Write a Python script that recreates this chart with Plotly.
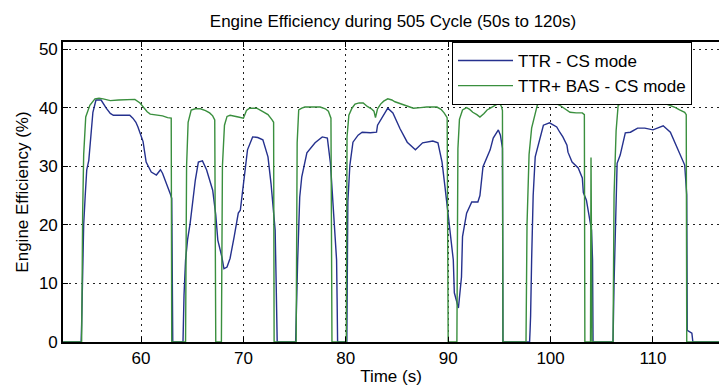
import plotly.graph_objects as go

# Engine efficiency traces, 505 cycle window
ttr_time = [52.4, 54.15, 54.2, 54.3, 54.4, 54.55, 54.7, 54.9, 55.1, 55.3, 55.6, 56.1, 56.6, 57.0, 57.3,
            58.2, 58.9, 59.2, 59.5, 59.7, 60.0, 60.2, 60.5, 60.8, 61.0, 61.5, 61.75, 61.9, 62.1, 62.4,
            62.6, 62.9, 63.0, 63.1, 64.1, 64.2, 64.35, 64.55, 64.8, 65.05, 65.3, 65.6, 66.0, 66.4, 66.7,
            67.0, 67.3, 67.5, 67.9, 68.1, 68.4, 68.7, 69.1, 69.5, 69.7, 70.0, 70.4, 70.9, 71.4, 71.9,
            72.4, 72.7, 72.9, 73.1, 73.2, 73.3, 75.1, 75.2, 75.3, 75.5, 75.7, 76.2, 77.0, 77.7, 78.2,
            78.5, 78.7, 79.1, 79.15, 79.2, 80.1, 80.15, 80.2, 80.4, 80.7, 81.2, 81.6, 82.4, 83.0, 83.1,
            83.6, 84.1, 84.6, 85.0, 85.3, 86.0, 86.8, 87.5, 88.5, 89.0, 89.4, 89.7, 89.9, 90.2, 90.5,
            90.6, 91.0, 91.3, 91.4, 91.8, 92.3, 92.9, 93.1, 93.4, 93.8, 94.1, 94.4, 94.9, 95.1, 95.3,
            95.35, 97.95, 98.0, 98.05, 98.15, 98.3, 98.5, 99.0, 99.3, 99.9, 100.6, 100.9, 101.2, 101.6,
            101.7, 102.1, 102.7, 103.1, 103.2, 103.5, 103.8, 104.0, 104.1, 104.15, 106.1, 106.2, 106.5,
            106.8, 107.3, 107.8, 108.5, 109.2, 110.0, 111.0, 111.7, 112.4, 113.1, 113.3, 113.35, 113.8,
            113.9, 116.5]
ttr_eff = [0, 0, 3, 14, 20, 25, 29.4, 31, 35.8, 39.2, 41.3, 41.3, 39.9, 39.0, 38.7,
           38.7, 38.7, 38.2, 37.5, 36.7, 35.3, 34.2, 30.7, 29.5, 29.0, 28.5, 29.2, 29.4, 28.8, 27.5,
           26.5, 25.1, 24.5, 0, 0, 8, 14, 17.5, 20.3, 24, 27.6, 30.7, 30.9, 29.4, 27.8,
           25.9, 21.7, 17.4, 14.5, 12.5, 12.8, 14.3, 18, 22, 22.5, 27, 32.8, 35.0, 34.9, 34.5,
           31.6, 27, 23.4, 19.1, 10, 0, 0, 8, 14, 24.7, 28.2, 32.3, 34.0, 35.0, 34.8,
           30.5, 24.7, 14, 7.5, 0, 0, 12, 23.9, 30.2, 34.1, 35.3, 35.8, 35.7, 35.8, 37,
           38.4, 39.9, 39.1, 37.5, 36.4, 34.1, 32.8, 34.0, 34.3, 34.0, 30.7, 26.3, 23.0, 19.1, 14,
           8.4, 5.8, 11.1, 18, 22, 23.9, 23.9, 25, 29.9, 31.5, 32.8, 34.8, 36.2, 35.3, 33.1,
           0, 0, 2, 4.5, 14, 25, 31.6, 35.0, 37.0, 37.4, 36.7, 35.8, 35.0, 33.6,
           32.4, 30.7, 29.7, 28.0, 25.5, 24.2, 21.3, 19.1, 14, 0, 0, 10, 30.5,
           31.9, 35.7, 35.8, 36.5, 36.5, 36.2, 36.9, 35.8, 33.1, 30.2, 25.1, 2, 1.5,
           0, 0]

bas_time = [52.4, 54.2, 54.3, 54.4, 54.6, 55.0, 55.5, 55.9, 56.3, 57.0, 57.8, 58.6, 59.4, 59.9, 60.2,
            60.6, 60.9, 61.5, 62.1, 62.6, 62.95, 63.0, 64.35, 64.45, 64.6, 64.9, 65.3, 65.8, 66.3,
            66.7, 67.0, 67.2, 67.3, 67.85, 67.95, 68.15, 68.4, 68.7, 69.1, 69.5, 70.0, 70.3, 70.6,
            71.3, 71.9, 72.4, 72.8, 72.95, 73.0, 75.15, 75.25, 75.4, 75.7, 76.0, 76.6, 77.5, 78.0,
            78.3, 78.55, 78.65, 80.05, 80.12, 80.3, 80.6, 80.9, 81.3, 81.7, 82.1, 82.5, 82.75, 82.9,
            83.1, 83.4, 83.7, 84.1, 84.5, 84.8, 85.3, 85.8, 86.6, 87.3, 87.9, 88.9, 89.3, 89.6,
            89.9, 90.0, 90.85, 90.95, 91.1, 91.4, 91.8, 92.1, 92.4, 92.8, 93.1, 93.5, 93.8, 94.2,
            94.6, 95.0, 95.2, 95.3, 95.35, 97.6, 97.7, 97.9, 98.15, 98.4, 98.7, 99.0, 99.5, 99.9,
            100.4, 100.9, 101.4, 101.9, 102.5, 103.1, 103.3, 103.35, 103.9, 103.95, 104.05, 106.1,
            106.2, 106.4, 106.6, 107.0, 107.8, 108.7, 109.4, 110.0, 110.7, 111.2, 111.7, 112.2,
            112.6, 113.1, 113.25, 113.3, 116.5]
bas_eff = [0, 0, 22, 32, 38.4, 40.4, 41.5, 41.6, 41.5, 41.2, 41.3, 41.4, 41.4, 40.8, 40.1,
           39.3, 38.9, 38.7, 38.6, 38.3, 38.2, 0, 0, 30, 37.5, 39.6, 39.8, 39.8, 39.5,
           39.1, 38.6, 37.9, 0, 0, 30, 37.0, 38.5, 38.7, 38.6, 38.4, 38.2, 39.5, 39.9,
           39.9, 39.3, 38.8, 37.9, 37.5, 0, 0, 34, 39.6, 39.9, 40.1, 40.1, 40.1, 39.8,
           39.4, 38.2, 0, 0, 35, 38.7, 39.9, 40.6, 40.8, 40.8, 40.2, 39.8, 39.4, 38.3,
           39.8, 40.6, 41.1, 41.5, 41.3, 41.0, 40.7, 40.3, 39.9, 40.0, 40.1, 40.1, 39.7, 39.1,
           38.3, 0, 0, 33, 38.0, 39.6, 40.0, 39.7, 39.2, 38.8, 38.4, 39.0, 39.6, 40.0,
           40.4, 40.8, 40.2, 39.5, 0, 0, 20, 32, 36.5, 38.5, 40.4, 41.0, 41.1, 41.0,
           40.8, 40.4, 39.8, 39.2, 39.1, 39.1, 38.8, 0, 0, 31.5, 0, 0,
           25, 36, 40.4, 40.8, 40.8, 40.8, 40.9, 41.0, 41.0, 40.7, 40.4, 40.0,
           39.6, 39.2, 38.8, 0, 0]

x_ticks = [60, 70, 80, 90, 100, 110]
y_ticks = [0, 10, 20, 30, 40, 50]

FONT = "Liberation Sans, Arial, sans-serif"
FS = 17

fig = go.Figure()
fig.add_trace(go.Scatter(x=ttr_time, y=ttr_eff, mode="lines", name="TTR - CS mode",
                         line=dict(color="#25318e", width=1.4)))
fig.add_trace(go.Scatter(x=bas_time, y=bas_eff, mode="lines", name="TTR+ BAS - CS mode",
                         line=dict(color="#3a8f3e", width=1.4)))

axis_common = dict(
    showline=True, linecolor="black", linewidth=1.6,
    ticks="inside", ticklen=5, tickcolor="black", tickwidth=1,
    showgrid=True, gridcolor="#222222", gridwidth=1, griddash="2px,4px",
    zeroline=False, tickfont=dict(family=FONT, size=FS, color="black"),
)

fig.update_layout(
    width=719, height=390,
    margin=dict(l=63, r=0, t=42, b=48),
    paper_bgcolor="white", plot_bgcolor="white",
    title=dict(text="Engine Efficiency during 505 Cycle (50s to 120s)",
               font=dict(family=FONT, size=FS, color="black"),
               x=393 / 719, xanchor="center", y=1 - 21 / 390, yanchor="middle"),
    xaxis=dict(range=[52.38, 116.45], tickvals=x_ticks, mirror="ticks",
               title=dict(text="Time (s)", font=dict(family=FONT, size=FS, color="black"),
                          standoff=3),
               **axis_common),
    yaxis=dict(range=[0, 51.2], tickvals=y_ticks,
               title=dict(text="Engine Efficiency (%)", font=dict(family=FONT, size=FS, color="black"),
                          standoff=6),
               **axis_common),
    legend=dict(x=(452 - 63) / 656, y=1.0, xanchor="left", yanchor="top",
                bgcolor="white", bordercolor="black", borderwidth=1,
                font=dict(family=FONT, size=FS, color="black"),
                itemwidth=55, tracegroupgap=0),
    showlegend=True,
)

fig.write_html("out.html")
